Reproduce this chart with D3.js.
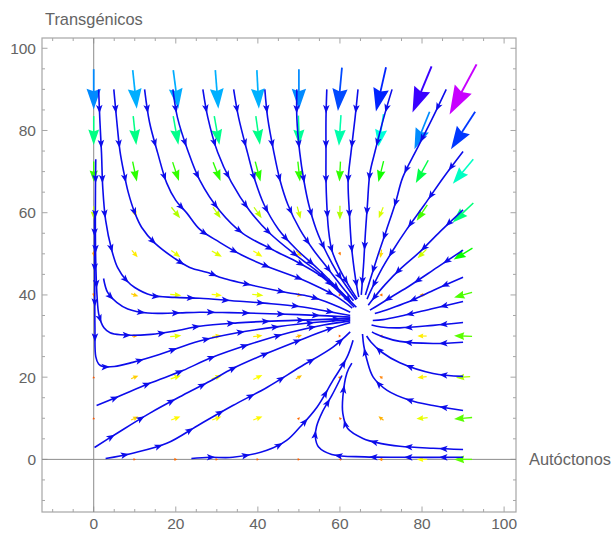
<!DOCTYPE html>
<html>
<head>
<meta charset="utf-8">
<script src="https://cdn.jsdelivr.net/npm/d3@7"></script>
<style>
  body { margin: 0; background: #fff; }
  svg { display: block; font-family: "Liberation Sans", Arial, sans-serif; }
</style>
</head>
<body>
<div id="container"></div>
<script>
/* DATA */
const gridX = [0, 10, 20, 30, 40, 50, 60, 70, 80, 90];
const gridY = [0, 10, 20, 30, 40, 50, 60, 70, 80, 90];

// vector components, one row per gridY value (bottom to top)
const vecU = [
  [0, 1, 1.5, 1, 1, 1, -1, -3, -9, -17],
  [0, 6, 8, 8, 8, 1, -1, -4, -10, -17],
  [0, 6, 9, 9, 8, 5, 1, -2, -8, -13],
  [0, 4, 10, 8, 8, 5, 1, -2, -8, -17],
  [0, 6, 10, 9, 10, 5, 1, -2, -4, -17],
  [0, 5, 8, 9, 8, 5, 1, -1, -8, -18],
  [0, 3, 8, 7, 7, 3, 0, -4, -10, -20],
  [0, 4, 6, 7, 5, 2, -1, -5, -12, -20],
  [0, 3, 5, 5, 4, 1, -2, -5, -15, -24],
  [0, 4, 5, 3, 2, 0, -4, -10, -19, -27]
];
const vecV = [
  [0, 0, 0, 0, 0, 0, 0, 0, 0, 0],
  [0.5, 3, 3, 3, 3, 1, 1, 3, -1, -1.5],
  [0.5, 2.5, 3, 3, 4, 3, 1, 1.5, -1, -1],
  [-1, 0, 1, 1, 1, 1.5, 0, 0, 0, 0.5],
  [-2, -2, -1, -1, -1, -1, 0, 0, 0, -5],
  [-4, -6, -6, -5, -5, -5, -2, -7, -8, -11],
  [-12, -7, -10, -10, -10, -11, -13, -10, -15, -19],
  [-19, -19, -18, -18, -19, -19, -19, -20, -22, -24],
  [-28, -28, -28, -28, -28, -29, -30, -32, -37, -37],
  [-40, -38, -38, -38, -38, -40, -43, -44, -46, -50]
];

// streamlines, [x, y] in data units
const streams = [
  [[1.2,90],[1.5,82.5],[1.9,74.5],[2.2,66.2],[2.9,58.2],[4.4,50.9],[5.8,46.7],[8,43.5],[10,41.8],[14.1,39.9],[19.7,39.4],[25.8,39.2],[33.7,38.6],[41.7,38],[50,37.2],[57,36],[62.5,35]],
  [[4.9,90],[5.6,82.5],[6.4,75],[7.3,70],[8.4,65],[10,60],[11.7,56.4],[14.9,52.6],[19.7,48.9],[23.4,46.7],[28.3,45.3],[30.7,44.3],[38.8,42.3],[47,40.6],[52.7,39.6],[58,37.8],[62.5,35.8]],
  [[12.4,90],[13.6,82],[15.6,74.5],[17.8,67.2],[20,63],[22.7,59.9],[25.8,56],[30.7,52.8],[36.3,49.6],[42.9,46.7],[50.2,44],[55,41.8],[59.5,39.4],[63,36.8]],
  [[19.3,90],[20.4,83.2],[22.9,75.2],[25.8,68],[30.7,60.5],[36.3,55],[43.6,51],[50,47.8],[55.5,44.5],[60,40.5],[63.5,37]],
  [[26.6,90],[27.8,83.2],[30.2,74.7],[33.5,67.5],[38,60.5],[42.9,55],[49.5,49.5],[54.4,45.8],[58.5,42.3],[62,39],[64,37]],
  [[34.1,90],[35.3,83.2],[37.5,74.5],[39.3,67.9],[41.5,62],[45,56],[49.5,51],[54.5,46.5],[58.5,42.6],[62.5,38.5]],
  [[41.7,90],[42.4,83],[43.9,74.7],[45.4,67.9],[47.3,62],[50.2,56],[53.5,51],[57,46.5],[60.5,42],[63.3,38.6]],
  [[49.5,90],[49.5,83],[50.2,74.7],[51.2,67.9],[52.4,62],[54.2,56],[56.6,50.5],[59.3,45.5],[62,41.5],[63.9,38.8]],
  [[56.8,90],[56.6,83],[56.6,74.7],[56.6,67.9],[56.8,62],[57.2,56],[58,51],[59.8,46.5],[62.3,42],[64.2,39]],
  [[64.4,90],[63.7,83.2],[62.7,74.7],[62,67.9],[62.3,60],[62.8,52],[63.5,46],[64.2,41.5],[64.6,39.5]],
  [[72.7,90],[70.7,83.2],[68.5,74.7],[67.3,69.6],[66.7,62],[66.2,55],[65.8,48],[65.4,42.5],[65.2,40]],
  [[85.9,90],[82.4,82.7],[78.7,75.4],[75.3,68.6],[73.5,62.3],[71.3,55.7],[69.2,49.5],[67.3,43.5],[66.2,40]],
  [[90,74.9],[85.1,68.4],[80.5,61.8],[76.1,55.7],[73,51],[70.3,46.5],[68,42],[66.6,39]],
  [[90,60.7],[84.4,55.4],[79.6,50.6],[74.6,46.2],[71,42.5],[68.3,39.3],[66.9,37.5]],
  [[90,50.9],[83.7,46.7],[77.1,42.3],[72.5,39.5],[69.3,37.5],[67.3,36.3]],
  [[90,44.3],[82.7,41.1],[76.4,38.2],[72,36.6],[68.5,35.5]],
  [[90,38.4],[82.7,36.7],[74.6,34.8],[70.5,34],[68,33.8]],
  [[90,33.3],[82.7,32.6],[74.6,32],[70,32.2],[67.7,32.7]],
  [[90,28.5],[82.7,28.2],[74.6,28.7],[70.5,29.8],[67.8,31]],
  [[90,20.2],[82.7,20.9],[74.6,23.5],[70.3,26],[67.6,28.5],[66.5,30]],
  [[90,11.9],[82.7,13.1],[77,14.4],[71.5,16.8],[68.1,20],[66.6,24.1],[65.8,27.7],[65.5,30.5]],
  [[90,2.4],[82.7,2.7],[74.6,3.2],[69.8,3.9],[65.6,5.1],[61.9,7.5],[60.7,11.2],[60.7,15.1],[61.7,21],[62.9,23.4]],
  [[90,0.5],[75,0.5],[66,0.6],[58,1.2],[54.8,3],[54,5.5],[54.3,8],[55.7,11.5],[58,15.5],[60.5,20.4]],
  [[2.4,44],[3.4,40.6],[5.6,38.2],[8.3,36.6],[13.2,35.6],[19.7,35.6],[25.8,35.8],[33,35.7],[41,35.5],[50,35.2],[57,34.9],[62.5,34.6]],
  [[0.5,73],[0.4,60],[0.5,48],[0.8,40],[1.3,35],[2.5,32],[4,30.8],[6.5,30.3],[14,30.4],[19.7,31.2],[25.8,32.4],[35,33.2],[45,33.7],[55,34],[62.5,34.3]],
  [[0.2,60],[0.25,45],[0.3,32],[0.5,25],[1.2,23.2],[2.2,22.6],[5,22.6],[9.5,23.6],[16,25.5],[25.8,28.8],[35,30.8],[45,32.3],[55,33.4],[62.5,34]],
  [[0.7,13.1],[5.6,15.1],[13.6,18.5],[21.7,21.6],[28.3,24.6],[38,28],[48,30.9],[56,32.7],[62.5,33.7]],
  [[0.2,2.9],[5.6,6.3],[13.6,11.2],[21.7,15.6],[28.3,19],[33.9,22.1],[42.2,25.8],[50.2,29],[57,31.6],[62.5,33.3]],
  [[2.9,0.2],[9.5,1.5],[17.8,3.9],[25.8,8.5],[33.9,13.1],[42.2,17.5],[50.2,22.4],[58.3,27.3],[62.5,31]],
  [[23.8,0.2],[28.3,0.5],[33.9,0.5],[42.2,2.2],[47,4.6],[50.2,7.8],[54.4,12.7],[58.3,19.2],[61.7,24.8],[63.2,29]]
];

const xTicks = [0, 20, 40, 60, 80, 100];
const yTicks = [0, 20, 40, 60, 80, 100];
const xLabel = "Autóctonos";
const yLabel = "Transgénicos";

/* LAYOUT */
const width = 612, height = 533;
const frame = { left: 42, right: 516, top: 38, bottom: 512 };
const streamColor = "rgb(12,12,235)";
const axisGray = "#8c8c8c";
const textGray = "#646464";

const x = d3.scaleLinear().domain([-12.6, 102.9]).range([frame.left, frame.right]);
const y = d3.scaleLinear().domain([-12.8, 102.5]).range([frame.bottom, frame.top]);

// magnitude -> arrow length (px) and hue
const maxMag = 57;
const lenScale = d3.scaleLinear().domain([0, maxMag]).range([1.5, 57]);
const hueScale = d3.scaleLinear().domain([0, maxMag]).range([0.05, 0.8]).clamp(true);

const svg = d3.select("#container")
  .append("svg")
  .attr("width", width)
  .attr("height", height);

// frame
svg.append("rect")
  .attr("x", frame.left).attr("y", frame.top)
  .attr("width", frame.right - frame.left)
  .attr("height", frame.bottom - frame.top)
  .attr("fill", "none")
  .attr("stroke", "#a6a6a6")
  .attr("stroke-width", 1.2);

// frame ticks: major every 20, minor every 5
const xMinor = d3.range(-10, 101, 5);
const yMinor = d3.range(-10, 101, 5);
const tickG = svg.append("g").attr("stroke", "#a6a6a6").attr("stroke-width", 1);
xMinor.forEach(v => {
  const len = v % 20 === 0 ? 5.5 : 3;
  tickG.append("line").attr("x1", x(v)).attr("x2", x(v)).attr("y1", frame.bottom).attr("y2", frame.bottom - len);
  tickG.append("line").attr("x1", x(v)).attr("x2", x(v)).attr("y1", frame.top).attr("y2", frame.top + len);
});
yMinor.forEach(v => {
  const len = v % 20 === 0 ? 5.5 : 3;
  tickG.append("line").attr("y1", y(v)).attr("y2", y(v)).attr("x1", frame.left).attr("x2", frame.left + len);
  tickG.append("line").attr("y1", y(v)).attr("y2", y(v)).attr("x1", frame.right).attr("x2", frame.right - len);
});

// tick labels
svg.append("g").selectAll("text")
  .data(xTicks).join("text")
  .attr("x", d => x(d)).attr("y", 529)
  .attr("text-anchor", "middle")
  .attr("font-size", "15.5px").attr("fill", textGray)
  .text(d => d);
svg.append("g").selectAll("text")
  .data(yTicks).join("text")
  .attr("x", 36).attr("y", d => y(d) + 5.5)
  .attr("text-anchor", "end")
  .attr("font-size", "15.5px").attr("fill", textGray)
  .text(d => d);

// axes through origin
svg.append("line")
  .attr("x1", x(0)).attr("x2", x(0)).attr("y1", frame.top).attr("y2", frame.bottom)
  .attr("stroke", axisGray).attr("stroke-width", 1);
svg.append("line")
  .attr("x1", frame.left).attr("x2", frame.right).attr("y1", y(0)).attr("y2", y(0))
  .attr("stroke", axisGray).attr("stroke-width", 1);

// axis labels
svg.append("text")
  .attr("x", 45).attr("y", 25)
  .attr("font-size", "16.4px").attr("fill", textGray)
  .text(yLabel);
svg.append("text")
  .attr("x", 529).attr("y", y(0) + 5.5)
  .attr("font-size", "16.4px").attr("fill", textGray)
  .text(xLabel);

const plot = svg.append("g");

// VECTOR ARROWS
const arrows = [];
gridY.forEach((gy, i) => gridX.forEach((gx, j) => {
  arrows.push({ gx, gy, u: vecU[i][j], v: vecV[i][j], m: Math.hypot(vecU[i][j], vecV[i][j]) });
}));

const arrowG = plot.append("g");
arrows.filter(d => d.m > 0).forEach(d => {
  const L = lenScale(d.m);
  const dx = d.u / d.m, dy = -d.v / d.m;
  const cx = x(d.gx), cy = y(d.gy);
  const tx = cx - dx * L / 2, ty = cy - dy * L / 2;
  const hx = cx + dx * L / 2, hy = cy + dy * L / 2;
  const headL = Math.min(L, 1.5 + L * 0.48), headW = 1.1 + L * 0.15;
  const bx = hx - dx * headL, by = hy - dy * headL;
  const nx = -dy, ny = dx;
  const col = d3.hsl(hueScale(d.m) * 360, 1, 0.5).toString();
  arrowG.append("line")
    .attr("x1", tx).attr("y1", ty)
    .attr("x2", hx - dx * headL * 0.8).attr("y2", hy - dy * headL * 0.8)
    .attr("stroke", col)
    .attr("stroke-width", 1 + L * 0.018);
  const notch = headL * 0.12;
  arrowG.append("path")
    .attr("d", `M${hx},${hy} L${bx + nx * headW},${by + ny * headW} L${bx + dx * notch},${by + dy * notch} L${bx - nx * headW},${by - ny * headW} Z`)
    .attr("fill", col);
});

// STREAMLINES
const lineGen = d3.line()
  .x(d => x(d[0]))
  .y(d => y(d[1]))
  .curve(d3.curveCatmullRom.alpha(0.5));

const streamG = plot.append("g");
streams.forEach(s => {
  const p = streamG.append("path")
    .attr("d", lineGen(s))
    .attr("fill", "none")
    .attr("stroke", streamColor)
    .attr("stroke-width", 1.6);
  const node = p.node();
  const total = node.getTotalLength();
  for (let at = 24; at <= total - 2; at += 35) {
    const a = node.getPointAtLength(at);
    const b = node.getPointAtLength(Math.max(0, at - 3));
    const ang = Math.atan2(a.y - b.y, a.x - b.x) * 180 / Math.PI;
    streamG.append("path")
      .attr("d", "M0,0 L-8.5,-3.3 L-6.5,0 L-8.5,3.3 Z")
      .attr("transform", `translate(${a.x},${a.y}) rotate(${ang})`)
      .attr("fill", streamColor);
  }
});
</script>
</body>
</html>
